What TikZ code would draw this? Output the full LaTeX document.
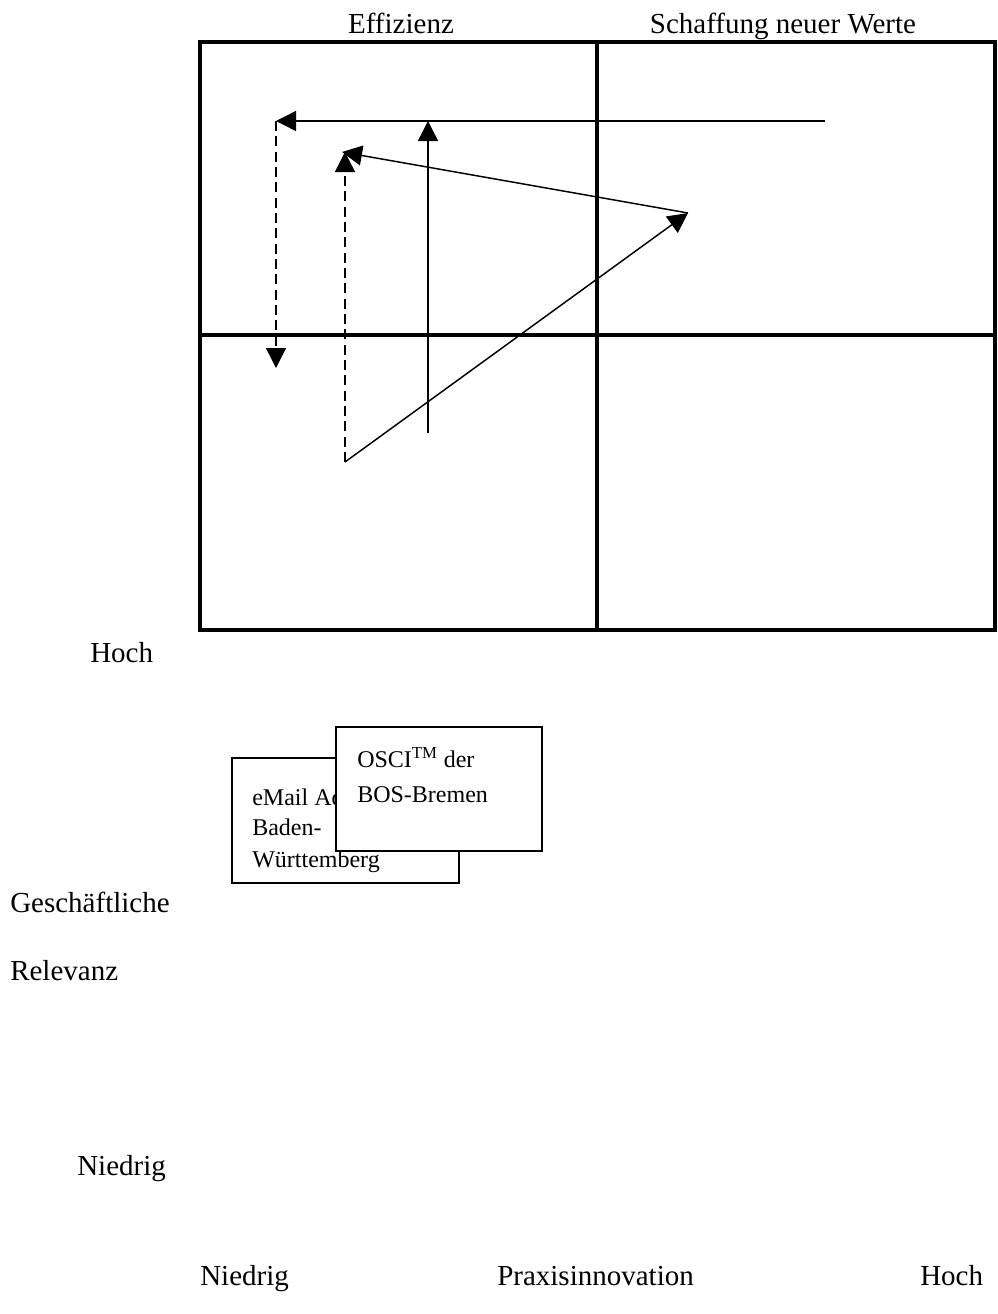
\documentclass[tikz,border=0pt]{standalone}
\usepackage{fontspec}
\setmainfont{Liberation Serif}
\usetikzlibrary{arrows.meta}
\begin{document}
\begin{tikzpicture}[x=0.75pt,y=-0.75pt,
  lbl/.style={anchor=base west,inner sep=0pt,font=\fontsize{21.75}{26}\selectfont},
  boxtxt/.style={anchor=base west,inner sep=0pt,font=\fontsize{18}{22}\selectfont},
  grid/.style={line width=2.3pt},
  arr/.style={line width=1.1pt,-{Triangle[length=15pt,width=15pt]}},
  darr/.style={arr,dash pattern=on 7.5pt off 4pt},
  card/.style={draw,fill=white,line width=1.1pt}]
\useasboundingbox (0,0) rectangle (997,1314);
% grid
\draw[grid] (200,42) rectangle (995,630);
\draw[grid] (597,42) -- (597,630);
\draw[grid] (200,335) -- (995,335);
% coordinates
\coordinate (hs) at (825,121);
\coordinate (ht) at (276,121);
\coordinate (dt) at (276,368);
\coordinate (vs) at (428,433);
\coordinate (vt) at (428,121);
\coordinate (lo) at (345,462);
\coordinate (rp) at (688,213);
\coordinate (tp) at (342,152);
\coordinate (dt2) at (345,152);
% arrows
\draw[arr] (hs) -- (ht);
\draw[darr] (ht) -- (dt);
\draw[arr] (vs) -- (vt);
\draw[arr] (lo) -- (rp);
\draw[arr] (rp) -- (tp);
\draw[darr] (lo) -- (dt2);
% labels
\node[lbl,anchor=base] (eff) at (401,33) {Effizienz};
\node[lbl,anchor=base] (sch) at (783,33) {Schaffung neuer Werte};
\node[lbl] (hoch) at (90,662) {Hoch};
\node[lbl] (ges) at (10,912) {Geschäftliche};
\node[lbl] (rel) at (10,980) {Relevanz};
\node[lbl] (nied) at (77,1175) {Niedrig};
\node[lbl] (nx) at (200,1285) {Niedrig};
\node[lbl] (prax) at (497,1285) {Praxisinnovation};
\node[lbl] (hx) at (920,1285) {Hoch};
% cards
\draw[card] (232,758) rectangle (459,883);
\node[boxtxt] (em1) at (252,805) {eMail Ad};
\node[boxtxt] (em2) at (252,835) {Baden-};
\node[boxtxt] (em3) at (252,867) {Württemberg};
\draw[card] (336,727) rectangle (542,851);
\node[boxtxt] (os1) at (357,767) {OSCI\textsuperscript{TM} der};
\node[boxtxt] (os2) at (357,802) {BOS-Bremen};
\end{tikzpicture}
\end{document}
